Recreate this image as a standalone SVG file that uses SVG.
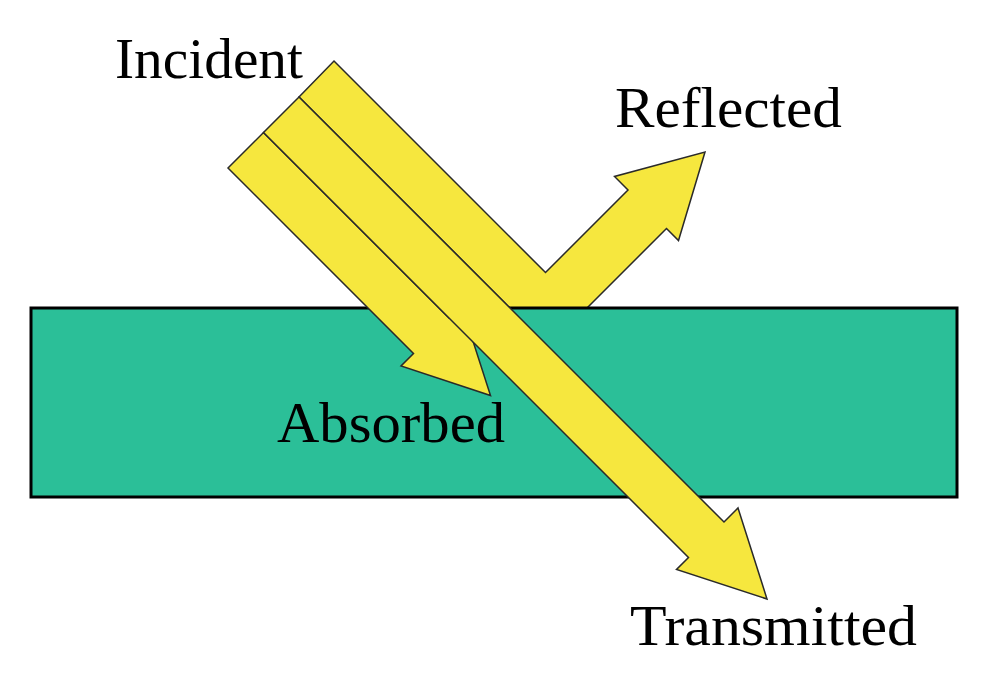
<svg xmlns="http://www.w3.org/2000/svg" width="1006" height="683" viewBox="0 0 1006 683">
<style>
.beam{fill:#f6e73e;stroke:#2a2a2a;stroke-width:1.5;stroke-linejoin:miter}
.slab{fill:#2bbf98;stroke:#000;stroke-width:3}
.lbl{font-family:"Liberation Serif","Times New Roman",serif;font-size:56px;fill:#000}
</style>
<rect width="1006" height="683" fill="#fff"/>
<g id="reflected">
<polygon class="beam" points="334,61 545.5,272.5 628,190 614.5,176.5 705,152 678.5,240.5 666.5,228.5 575,320 522,320 299,97"/>
</g>
<g id="slab">
<rect class="slab" x="31" y="308" width="926" height="189"/>
</g>
<g id="connectors">
<g id="absorbed">
<polygon class="beam" points="263.5,132.5 449,318 461.5,305.5 490.5,395.5 401,366 413.5,353.5 228,168"/>
</g>
<g id="transmitted">
<polygon class="beam" points="299,97 724,522 738,508 767,599 676.5,569.5 688.5,557.5 263.5,132.5"/>
</g>
</g>
<g id="labels">
<text class="lbl" x="115" y="78" textLength="188" lengthAdjust="spacingAndGlyphs">Incident</text>
<text class="lbl" x="615" y="127" textLength="227" lengthAdjust="spacingAndGlyphs">Reflected</text>
<text class="lbl" x="277" y="442" textLength="228" lengthAdjust="spacingAndGlyphs">Absorbed</text>
<text class="lbl" x="630" y="645" textLength="287" lengthAdjust="spacingAndGlyphs">Transmitted</text>
</g>
</svg>
